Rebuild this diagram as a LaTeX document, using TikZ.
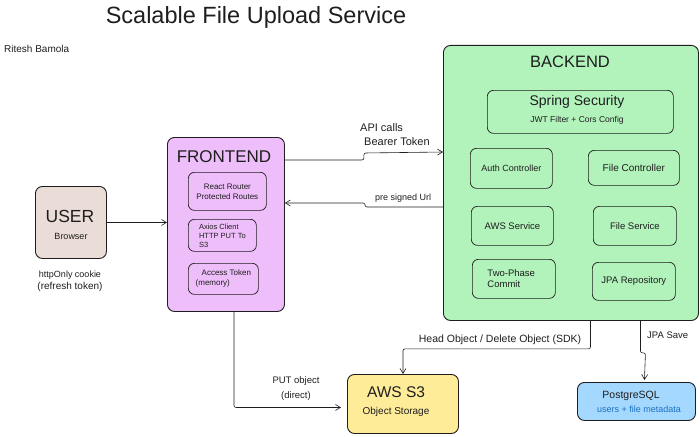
\documentclass[tikz,border=0pt]{standalone}
\usepackage{fontspec}
\setmainfont{Liberation Sans}
\usetikzlibrary{positioning,arrows.meta}
\definecolor{ink}{HTML}{1E1E1E}
\definecolor{userfill}{HTML}{EADDD7}
\definecolor{frontfill}{HTML}{EEBEFA}
\definecolor{backfill}{HTML}{B2F2BB}
\definecolor{sthreefill}{HTML}{FFEC99}
\definecolor{pgfill}{HTML}{A5D8FF}
\definecolor{pgtext}{HTML}{1971C2}

\begin{document}
\begin{tikzpicture}[x=1pt,y=-1pt,>={Straight Barb[length=5pt,width=6pt]},
   every node/.style={text=ink,inner sep=1pt},
   group/.style={draw=ink,line width=0.9pt,rounded corners=7pt,anchor=north west},
   part/.style={draw=ink,line width=0.7pt,rounded corners=6pt,anchor=north west,align=center,font=\fontsize{9.5}{11}\selectfont},
   arr/.style={->,draw=ink,line width=0.6pt,rounded corners=2pt}]
 \useasboundingbox (0,0) rectangle (700,436);
 \node (title) at (256,17) {\fontsize{23.5}{26}\selectfont Scalable File Upload Service};
 \node[anchor=west] (author) at (3,49) {\fontsize{10}{12}\selectfont Ritesh Bamola};
 % client side
 \node[group,fill=userfill,minimum width=71,minimum height=72] (user) at (35,186) {};
 \node (usert) at (70,216) {\fontsize{17.5}{20}\selectfont USER};
 \node (userb) at (71,236) {\fontsize{9}{11}\selectfont Browser};
 \node[align=center] (cookie) at (70,281) {\fontsize{9}{16}\selectfont httpOnly cookie\\(refresh token)};
 \node[group,fill=frontfill,minimum width=117,minimum height=174] (fe) at (167,137) {};
 \node (fet) at (224,157) {\fontsize{17}{20}\selectfont FRONTEND};
 \node[part,minimum width=78,minimum height=38,font=\fontsize{8}{10}\selectfont] (router) at (188,172) {React Router\\Protected Routes};
 \node[part,minimum width=68,minimum height=32,align=left,font=\fontsize{7.5}{9}\selectfont] (axios) at (188,219) {Axios Client\\HTTP PUT To\\S3};
 \node[part,minimum width=70,minimum height=31,align=left,font=\fontsize{8}{10}\selectfont] (token) at (188,263) {\hspace*{6pt}Access Token\\(memory)};
 % server side
 \node[group,fill=backfill,minimum width=255,minimum height=275] (be) at (443,45) {};
 \node (bet) at (570,62) {\fontsize{16.5}{19}\selectfont BACKEND};
 \node[part,minimum width=186,minimum height=43] (sec) at (487,90) {};
 \node (sect) at (577,102) {\fontsize{14}{16}\selectfont Spring Security};
 \node (secb) at (577,120) {\fontsize{8.5}{10}\selectfont JWT Filter + Cors Config};
 \node[part,minimum width=82,minimum height=40,font=\fontsize{9}{11}\selectfont] (auth) at (470,148) {Auth Controller};
 \node[part,minimum width=91,minimum height=35,font=\fontsize{10}{12}\selectfont] (filectl) at (588,150) {File Controller};
 \node[part,minimum width=82,minimum height=39] (awssvc) at (471,206) {AWS Service};
 \node[part,minimum width=83,minimum height=39] (filesvc) at (593,206) {File Service};
 \node[part,minimum width=83,minimum height=39,align=left] (commit) at (472,259) {Two-Phase\\Commit\hspace*{20pt}};
 \node[part,minimum width=83,minimum height=38] (jpa) at (592,262) {JPA Repository};
 % storage
 \node[group,fill=sthreefill,minimum width=111,minimum height=59] (sthree) at (347,374) {};
 \node (sthreet) at (396,392) {\fontsize{15.5}{18}\selectfont AWS S3};
 \node (sthreeb) at (396,412) {\fontsize{10}{12}\selectfont Object Storage};
 \node[group,fill=pgfill,minimum width=118,minimum height=38] (pg) at (577,382) {};
 \node (pgt) at (631,396) {\fontsize{10.5}{12}\selectfont PostgreSQL};
 \node (pgb) at (639,409) {\fontsize{9}{11}\selectfont\color{pgtext}users + file metadata};
 % connectors
 \draw[arr] (user.east) -- (user.east -| fe.west);
 \draw[arr] ([yshift=-23pt]fe.north east) -- ++(79,0) -- ++(0,-7) -- (be.west |- 0,152);
 \draw[arr] (be.west |- 0,207) -- ++(-78,0) -- ++(0,-4) -- (fe.east |- 0,203);
 \draw[arr] ([xshift=8pt]fe.south) |- ([xshift=-6pt,yshift=-3.5pt]sthree.west);
 \draw[arr] ([xshift=19.5pt]be.south) -- ++(0,28) -| (sthree.north);
 \draw[arr] ([xshift=69.5pt]be.south) -- ++(0,32) -- ++(5,0) -- ([xshift=8pt,yshift=2pt]pg.north);
 \tikzset{every node/.style={text=ink,inner sep=1pt,font=\fontsize{9}{11}\selectfont}}
 \node[anchor=west,align=left,font=\fontsize{11}{14}\selectfont] (apil) at (359,135) {API calls\\\hspace*{4pt}Bearer Token};
 \node[anchor=west] (urll) at (374,198) {pre signed Url};
 \node[align=center,font=\fontsize{9.5}{15}\selectfont] (putl) at (296,389) {PUT object\\(direct)};
 \node[font=\fontsize{10.5}{12}\selectfont] (headl) at (500,340) {Head Object / Delete Object (SDK)};
 \node[anchor=west,font=\fontsize{9.5}{11}\selectfont] (jpal) at (646,335) {JPA Save};
\end{tikzpicture}
\end{document}
